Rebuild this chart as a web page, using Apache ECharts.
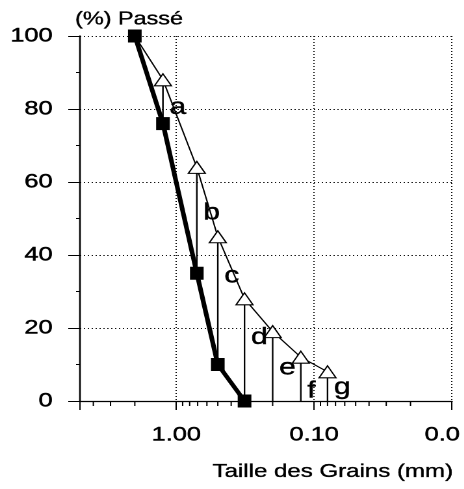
<!DOCTYPE html>
<html>
<head>
<meta charset="utf-8">
<script src="https://cdn.jsdelivr.net/npm/echarts@6/dist/echarts.min.js"></script>
<style>
  html, body { margin: 0; padding: 0; background: #fff; overflow: hidden; }
  /* the figure uses wide lettering: draw narrow and stretch horizontally */
  #chart { width: 357px; height: 489px; transform: scaleX(1.3); transform-origin: 0 0; }
</style>
</head>
<body>
<div id="chart"></div>
<script>
// Sieve openings (mm) and cumulative percent passing for the two curves
const grainSizes = [2, 1.25, 0.71, 0.5, 0.32, 0.2, 0.125, 0.08];
const passingBold = [100, 76, 35, 10, 0];
const passingThin = [100, 88, 64, 45, 28, 19, 12, 8];
const gapLetters = ['a', 'b', 'c', 'd', 'e', 'f', 'g'];

// Axis ticks and labels
const xTickValues = [1, 0.1, 0.01];
const xTickLabels = ['1.00', '0.10', '0.0'];
const yTickValues = [0, 20, 40, 60, 80, 100];

const FONT = '"Liberation Sans", Arial, sans-serif';

const boldData = passingBold.map((v, i) => [grainSizes[i], v]);
const thinData = passingThin.map((v, i) => {
  const item = { value: [grainSizes[i], v] };
  if (i === 0) item.symbol = 'none';
  return item;
});

// vertical gap between the two curves at each sieve from the second one on
const gapData = [];
for (let i = 1; i < grainSizes.length; i++) {
  const lo = i < passingBold.length ? passingBold[i] : 0;
  gapData.push([grainSizes[i], lo, passingThin[i]]);
}

// label anchors (percent) for the gap letters
const letterAnchor = [80.4, 51.5, 34.2, 17.3, 9.0, 2.7, 3.6];
const letterData = gapLetters.map((t, i) => [grainSizes[i + 1], letterAnchor[i], t]);

// log minor ticks (2..9 of each decade) inside the axis range
const xMin = 0.01, xMax = 5;
const minorTicks = [];
for (const dec of [0.01, 0.1, 1]) {
  for (let k = 2; k <= 9; k++) {
    const v = +(k * dec).toPrecision(3);
    if (v < xMax) minorTicks.push([v, 0]);
  }
}

const chart = echarts.init(document.getElementById('chart'), null, { devicePixelRatio: 2 });

const gridLine = { show: true, lineStyle: { color: '#111', width: 1, type: [1, 2] } };
const heavyText = { textBorderColor: '#000', textBorderWidth: 0.45 };

chart.setOption({
  animation: false,
  backgroundColor: '#fff',
  grid: { left: 61.5, right: 9.3, top: 36, bottom: 88, containLabel: false, outerBoundsMode: 'none' },
  xAxis: {
    type: 'log',
    logBase: 10,
    min: xMin,
    max: xMax,
    inverse: true,
    axisLine: { show: true, lineStyle: { color: '#000', width: 1.3 } },
    axisTick: { show: true, length: 9, lineStyle: { color: '#000', width: 1 } },
    axisLabel: Object.assign({
      margin: 24,
      color: '#000',
      fontFamily: FONT,
      fontSize: 19.5,
      formatter: function (v) {
        for (let i = 0; i < xTickValues.length; i++) {
          if (Math.abs(v - xTickValues[i]) < 1e-9) {
            return i === xTickValues.length - 1 ? '{e|' + xTickLabels[i] + '}' : xTickLabels[i];
          }
        }
        return '';
      },
      rich: { e: Object.assign({ fontFamily: FONT, fontSize: 19.5, color: '#000', padding: [0, 15, 0, 0] }, heavyText) }
    }, heavyText),
    splitLine: gridLine
  },
  yAxis: {
    type: 'value',
    min: yTickValues[0],
    max: yTickValues[yTickValues.length - 1],
    interval: 20,
    axisLine: { show: true, lineStyle: { color: '#000', width: 1.3 } },
    axisTick: { show: true, length: 9, lineStyle: { color: '#000', width: 1 } },
    minorTick: { show: true, splitNumber: 2, length: 3, lineStyle: { color: '#000', width: 1 } },
    axisLabel: Object.assign({ margin: 21, color: '#000', fontFamily: FONT, fontSize: 19.5 }, heavyText),
    splitLine: gridLine
  },
  graphic: [
    {
      type: 'text', x: 57.7, y: 19.5, silent: true,
      style: { text: '(%) Passé', font: '18px ' + FONT, fill: '#000', stroke: '#000', lineWidth: 0.35, align: 'left', verticalAlign: 'middle' }
    },
    {
      type: 'text', x: 348.5, y: 472, silent: true,
      style: { text: 'Taille des Grains (mm)', font: '18.5px ' + FONT, fill: '#000', stroke: '#000', lineWidth: 0.35, align: 'right', verticalAlign: 'middle' }
    }
  ],
  series: [
    {
      // log minor ticks under the x axis
      type: 'custom',
      silent: true,
      clip: false,
      z: 1,
      data: minorTicks,
      encode: { x: 0, y: 1 },
      renderItem: function (params, api) {
        const p = api.coord([api.value(0), api.value(1)]);
        return {
          type: 'line',
          shape: { x1: p[0], y1: p[1], x2: p[0], y2: p[1] + 5 },
          style: { stroke: '#000', lineWidth: 1 }
        };
      }
    },
    {
      // vertical gaps between the curves
      type: 'custom',
      silent: true,
      z: 2,
      data: gapData,
      encode: { x: 0, y: [1, 2] },
      renderItem: function (params, api) {
        const p1 = api.coord([api.value(0), api.value(1)]);
        const p2 = api.coord([api.value(0), api.value(2)]);
        return {
          type: 'line',
          shape: { x1: p1[0], y1: p1[1], x2: p2[0], y2: p2[1] },
          style: { stroke: '#000', lineWidth: 1.2 }
        };
      }
    },
    {
      type: 'line',
      z: 3,
      data: thinData,
      symbol: 'triangle',
      symbolSize: [13, 12],
      showAllSymbol: true,
      lineStyle: { color: '#000', width: 1.1 },
      itemStyle: { color: '#fff', borderColor: '#000', borderWidth: 1.1 }
    },
    {
      type: 'line',
      z: 4,
      data: boldData,
      symbol: 'rect',
      symbolSize: [10.5, 13],
      showAllSymbol: true,
      lineStyle: { color: '#000', width: 3.6 },
      itemStyle: { color: '#000', borderColor: '#000', borderWidth: 0 }
    },
    {
      // gap letters a..g
      type: 'custom',
      silent: true,
      z: 5,
      data: letterData,
      encode: { x: 0, y: 1 },
      renderItem: function (params, api) {
        const p = api.coord([api.value(0), api.value(1)]);
        return {
          type: 'text',
          x: p[0] + 5,
          y: p[1],
          style: {
            text: letterData[params.dataIndex][2],
            font: '23px ' + FONT,
            fill: '#000',
            stroke: '#000',
            lineWidth: 0.4,
            align: 'left',
            verticalAlign: 'middle'
          }
        };
      }
    }
  ]
});
</script>
</body>
</html>
